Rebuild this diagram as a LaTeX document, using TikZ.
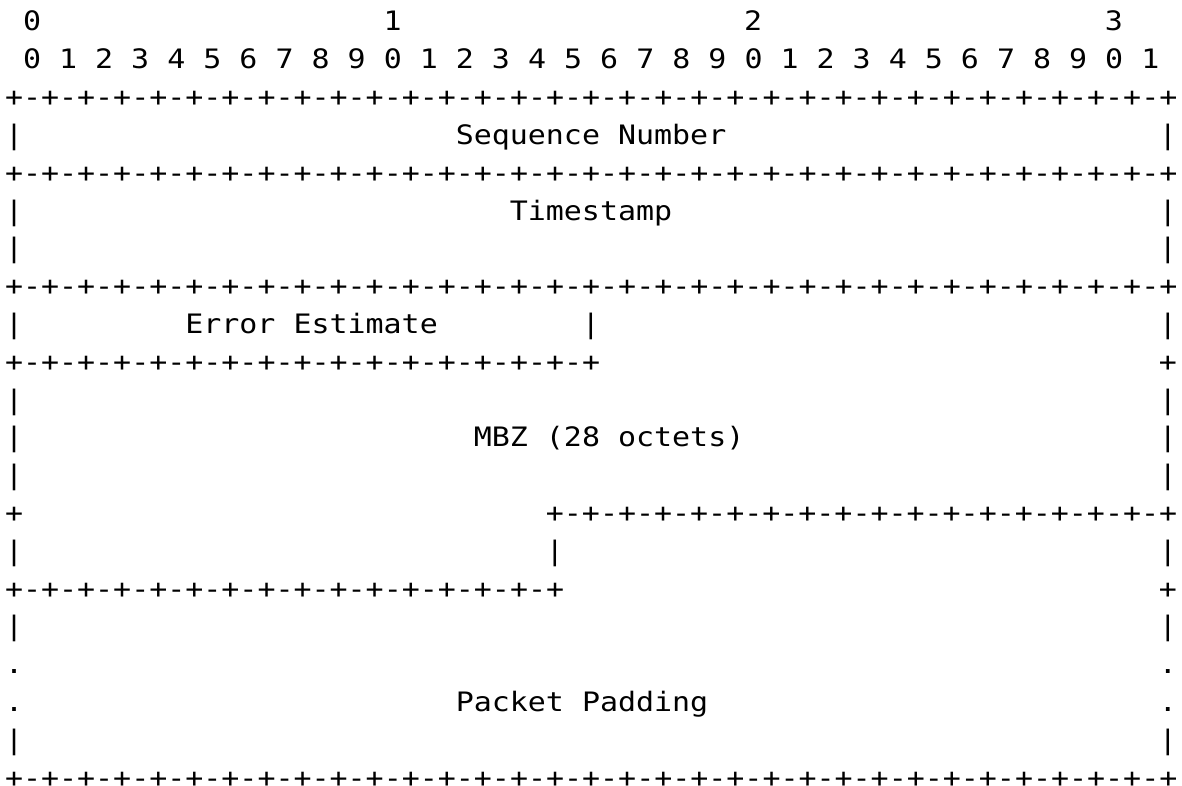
\documentclass[tikz,border=0pt]{standalone}
\usepackage{fontspec}
\newfontfamily\asciimono[FakeStretch=1.12]{DejaVu Sans Mono}
\ExplSyntaxOn
\cs_new:Npn \asciirule #1 { + \prg_replicate:nn {#1} { -+ } }
\ExplSyntaxOff
\newcommand\asc[4]{\node[txt] (#1) at ({5+18.03*#2},{31+37.8*#3}) {#4};}
\tikzset{txt/.style={anchor=base west, inner sep=0pt, outer sep=0pt, text=black,
  font=\asciimono\fontsize{26.75bp}{37.8bp}\selectfont}}
\begin{document}
\begin{tikzpicture}[x=1bp,y=-1bp]
\useasboundingbox (0,0) rectangle (1182,786);
\frenchspacing
% bit numbering
\asc{d0}{1}{0}{0}
\asc{d1}{21}{0}{1}
\asc{d2}{41}{0}{2}
\asc{d3}{61}{0}{3}
\asc{bits}{1}{1}{0 1 2 3 4 5 6 7 8 9 0 1 2 3 4 5 6 7 8 9 0 1 2 3 4 5 6 7 8 9 0 1}
% row 2
\asc{r2}{0}{2}{\asciirule{32}}
% Sequence Number
\asc{r3l}{0}{3}{|}
\asc{seq}{25}{3}{Sequence Number}
\asc{r3r}{64}{3}{|}
\asc{r4}{0}{4}{\asciirule{32}}
% Timestamp
\asc{r5l}{0}{5}{|}
\asc{ts}{28}{5}{Timestamp}
\asc{r5r}{64}{5}{|}
\asc{r6l}{0}{6}{|}
\asc{r6r}{64}{6}{|}
\asc{r7}{0}{7}{\asciirule{32}}
% Error Estimate
\asc{r8l}{0}{8}{|}
\asc{err}{10}{8}{Error Estimate}
\asc{r8m}{32}{8}{|}
\asc{r8r}{64}{8}{|}
\asc{r9}{0}{9}{\asciirule{16}}
\asc{r9r}{64}{9}{+}
% MBZ
\asc{r10l}{0}{10}{|}
\asc{r10r}{64}{10}{|}
\asc{r11l}{0}{11}{|}
\asc{mbz}{26}{11}{MBZ (28 octets)}
\asc{r11r}{64}{11}{|}
\asc{r12l}{0}{12}{|}
\asc{r12r}{64}{12}{|}
\asc{r13l}{0}{13}{+}
\asc{r13}{30}{13}{\asciirule{17}}
\asc{r14l}{0}{14}{|}
\asc{r14m}{30}{14}{|}
\asc{r14r}{64}{14}{|}
\asc{r15}{0}{15}{\asciirule{15}}
\asc{r15r}{64}{15}{+}
% Packet Padding
\asc{r16l}{0}{16}{|}
\asc{r16r}{64}{16}{|}
\asc{r17l}{0}{17}{.}
\asc{r17r}{64}{17}{.}
\asc{r18l}{0}{18}{.}
\asc{pad}{25}{18}{Packet Padding}
\asc{r18r}{64}{18}{.}
\asc{r19l}{0}{19}{|}
\asc{r19r}{64}{19}{|}
\asc{r20}{0}{20}{\asciirule{32}}
\end{tikzpicture}
\end{document}
